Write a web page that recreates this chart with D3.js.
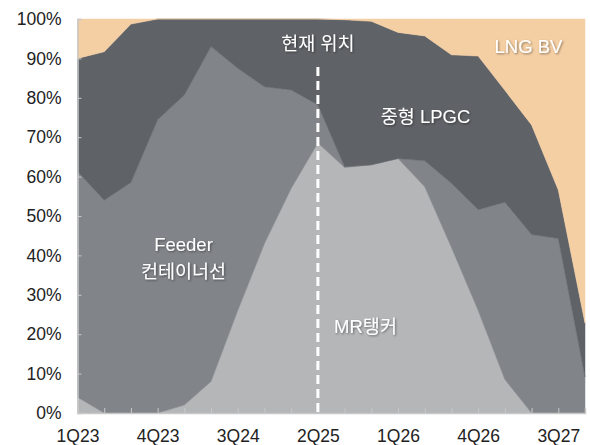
<!DOCTYPE html>
<meta charset="utf-8">
<style>
body { margin: 0; background: #fff; }
text { font-family: "Liberation Sans", "Noto Sans CJK KR", sans-serif; }
.axis text { font-size: 17.5px; fill: #222; }
.lbl { font-size: 18.5px; fill: #fff; text-anchor: middle; filter: url(#shadow); }
</style>
<body>
<svg width="590" height="445"></svg>
<script src="https://cdnjs.cloudflare.com/ajax/libs/d3/7.8.5/d3.min.js"></script>
<script>
// quarters 1Q23 ~ 4Q27
var quarters = ["1Q23","2Q23","3Q23","4Q23","1Q24","2Q24","3Q24","4Q24","1Q25","2Q25",
                "3Q25","4Q25","1Q26","2Q26","3Q26","4Q26","1Q27","2Q27","3Q27","4Q27"];
var tickLabels = ["1Q23","4Q23","3Q24","2Q25","1Q26","4Q26","3Q27"];

// share (%) by segment, bottom to top
var mrTanker = [4,0,0,0,2,8,26,43,57,68.5,62.3,63,64.6,57.4,42,26,8.5,0,0,0];
var feeder   = [57.3,54,58.5,74.4,78.7,85,61.5,39.8,25,9.7,0.2,0,0,6.6,16.3,25.6,45,45.3,44.3,9.2];
var lpgc     = [28.7,37.7,40.2,25.6,19.3,7,12.5,17.2,18,21.8,37.3,36.4,32,31.7,32.6,39,28.4,27.8,12.3,13.6];
var lngBv    = [10,8.3,1.3,0,0,0,0,0,0,0,0.2,0.6,3.4,4.3,9.1,9.4,18.1,26.9,43.4,77.2];

var keys = ["mr","feeder","lpgc","lng"];
var colors = {mr:"#b5b6b8", feeder:"#81858a", lpgc:"#5f6367", lng:"#f5cfa4"};

var rows = quarters.map(function(q, i) {
  return {q: q, mr: mrTanker[i], feeder: feeder[i], lpgc: lpgc[i], lng: lngBv[i]};
});

var svg = d3.select("svg");
var margin = {left: 77.5, right: 5, top: 19, bottom: 32};
var width = 590 - margin.left - margin.right,
    height = 445 - margin.top - margin.bottom;

var defs = svg.append("defs");
var f = defs.append("filter").attr("id","shadow").attr("x","-20%").attr("y","-30%").attr("width","140%").attr("height","160%");
f.append("feDropShadow").attr("dx",1).attr("dy",1).attr("stdDeviation",0.8).attr("flood-color","#000").attr("flood-opacity",0.45);

var g = svg.append("g").attr("transform","translate(" + margin.left + "," + margin.top + ")");

var x = d3.scalePoint().domain(quarters).range([0, width]);
var y = d3.scaleLinear().domain([0, 100]).range([height, 0]);

var series = d3.stack().keys(keys)(rows);

var area = d3.area()
    .x(function(d) { return x(d.data.q); })
    .y0(function(d) { return y(d[0]); })
    .y1(function(d) { return y(d[1]); });

g.selectAll("path.layer")
  .data(series)
  .enter().append("path")
    .attr("class","layer")
    .attr("fill", function(d) { return colors[d.key]; })
    .attr("stroke", function(d) { return colors[d.key]; })
    .attr("stroke-width", 0.5)
    .attr("d", area);

// x axis
var xAxis = g.append("g").attr("class","axis").attr("transform","translate(0," + height + ")")
  .call(d3.axisBottom(x).tickSize(-5).tickFormat(function(d) { return tickLabels.indexOf(d) >= 0 ? d : ""; }));
xAxis.select(".domain").attr("stroke","#c8c8c8").attr("stroke-width",1.5);
xAxis.selectAll(".tick line").attr("stroke","#c8c8c8");
xAxis.selectAll("text").attr("dy", "1.05em").attr("y", 11);

// y axis
var yAxis = g.append("g").attr("class","axis")
  .call(d3.axisLeft(y).tickValues(d3.range(0, 101, 10)).tickSize(-4).tickPadding(16)
    .tickFormat(function(d) { return d + "%"; }));
yAxis.select(".domain").attr("stroke","#c8c8c8").attr("stroke-width",1.5);
yAxis.selectAll(".tick line").attr("stroke","#c8c8c8");

// current position marker
var cur = x("2Q25");
g.append("line")
  .attr("x1", cur).attr("x2", cur)
  .attr("y1", 48).attr("y2", height)
  .attr("stroke","#fff").attr("stroke-width",3)
  .attr("stroke-dasharray","9,5");

var labels = [
  {t:"현재 위치", x: cur, y: 25},
  {t:"중형 LPGC", x: 348, y: 98},
  {t:"LNG BV", x: 451, y: 28},
  {t:"Feeder", x: 106, y: 226},
  {t:"컨테이너선", x: 106, y: 253},
  {t:"MR탱커", x: 288, y: 308}
];
g.selectAll("text.lbl")
  .data(labels)
  .enter().append("text")
    .attr("class","lbl")
    .attr("x", function(d) { return d.x; })
    .attr("y", function(d) { return d.y; })
    .attr("dy","0.35em")
    .text(function(d) { return d.t; });
</script>
</body>
